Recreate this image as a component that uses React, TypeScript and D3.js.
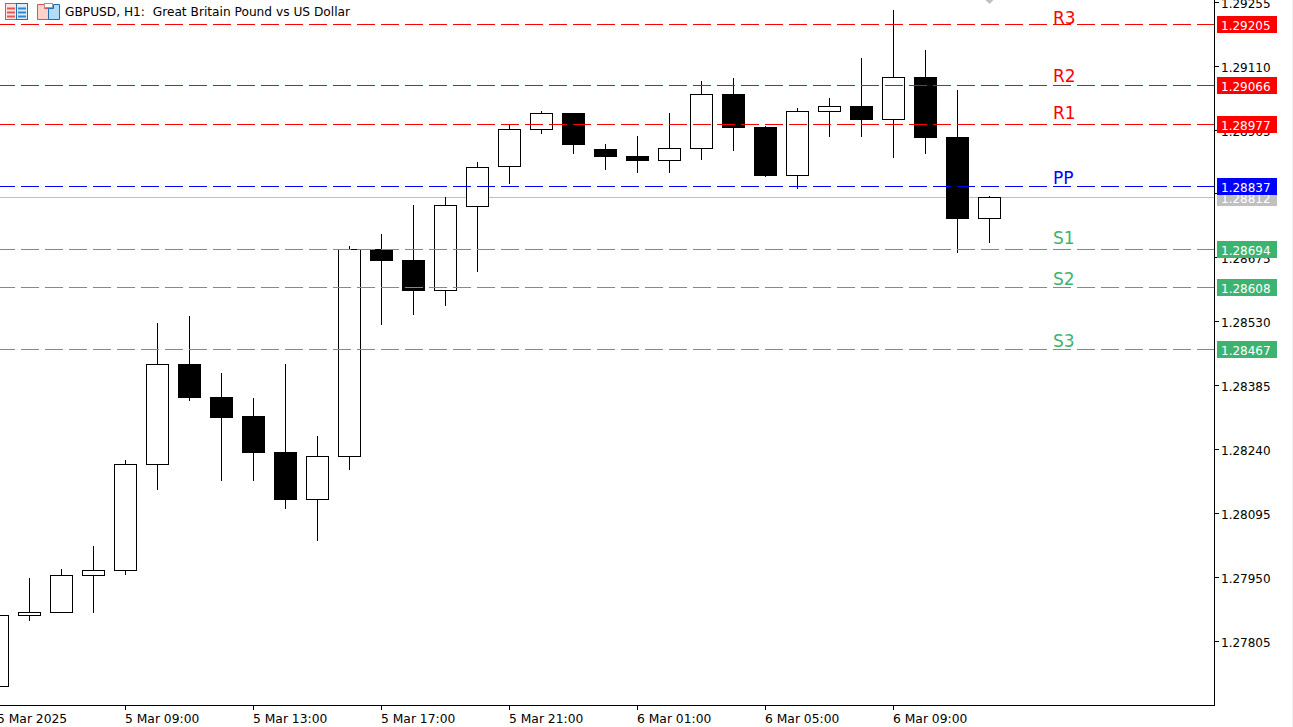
import React from "react";
import * as d3 from "d3";

const W = 1293;
const H = 727;

const title = "GBPUSD, H1:  Great Britain Pound vs US Dollar";

// Hourly candles, oldest first, in 1e-5 price units
const opens = [127702, 127864, 127871, 127954, 127965, 128206, 128433, 128358, 128315, 128233, 128126, 128224, 128694, 128669, 128600, 128791, 128882, 128966, 129003, 128921, 128905, 128896, 128923, 129046, 128971, 128862, 129007, 129019, 128989, 129085, 128948, 128764];
const highs = [127864, 127948, 127969, 128021, 128216, 128528, 128544, 128414, 128357, 128434, 128271, 128702, 128729, 128795, 128812, 128893, 128978, 129008, 129004, 128933, 128952, 129004, 129077, 129083, 128974, 129015, 129038, 129129, 129237, 129147, 129056, 128815];
const lows = [127702, 127850, 127871, 127870, 127955, 128148, 128349, 128169, 128169, 128105, 128033, 128194, 128523, 128546, 128565, 128643, 128843, 128957, 128911, 128875, 128868, 128868, 128898, 128918, 128858, 128830, 128948, 128948, 128902, 128911, 128686, 128709];
const closes = [127864, 127871, 127954, 127965, 128206, 128433, 128358, 128313, 128233, 128126, 128224, 128694, 128669, 128600, 128794, 128880, 128966, 129003, 128932, 128905, 128896, 128923, 129046, 128971, 128862, 129007, 129019, 128989, 129085, 128948, 128764, 128812];

const priceTicks = ["1.29255", "1.29110", "1.28965", "1.28820", "1.28675", "1.28530", "1.28385", "1.28240", "1.28095", "1.27950", "1.27805"];
const timeTickBars = [0, 4, 8, 12, 16, 20, 24, 28];
const timeTickLabels = ["5 Mar 2025", "5 Mar 09:00", "5 Mar 13:00", "5 Mar 17:00", "5 Mar 21:00", "6 Mar 01:00", "6 Mar 05:00", "6 Mar 09:00"];

const levelNames = ["R3", "R2", "R1", "PP", "S1", "S2", "S3"];
const levelPrices = ["1.29205", "1.29066", "1.28977", "1.28837", "1.28694", "1.28608", "1.28467"];
const levelColors = ["#ff0000", "#ff0000", "#ff0000", "#0000ff", "#3cb371", "#3cb371", "#3cb371"];
const levelNameLift = [0.5, 4, 5.5, 2.5, 5.5, 2.5, 2.5];
const lastPrice = "1.28812";

const FONT = "'DejaVu Sans', sans-serif";
const plotRight = 1214;
const plotBottom = 705;

const y = d3.scaleLinear().domain([1.27805, 1.29255]).range([641.2, 2.2]);
const x = d3.scaleLinear().domain([0, 1]).range([-2.5, 29.5]);
const px = (p: number) => Math.floor(y(p)) + 0.5;

export default function App() {
  return (
    <svg
      width={W}
      height={H}
      viewBox={`0 0 ${W} ${H}`}
      style={{ position: "fixed", left: 0, top: 0, background: "#fff" }}
      fontFamily={FONT}
    >
      <defs>
        <clipPath id="plot">
          <rect x={0} y={0} width={plotRight} height={plotBottom} />
        </clipPath>
      </defs>
      <rect x={W - 1} y={0} width={1} height={H} fill="#f0f0f0" />

      <g clipPath="url(#plot)">
        {/* last price line sits behind candles */}
        <line x1={0} x2={plotRight} y1={px(+lastPrice)} y2={px(+lastPrice)} stroke="#c0c0c0" />

        {opens.map((o, i) => {
          const c = closes[i];
          const up = c >= o;
          const cx = x(i);
          const top = px(Math.max(o, c) / 1e5);
          const bottom = px(Math.min(o, c) / 1e5);
          return (
            <g key={i}>
              <line
                x1={cx}
                x2={cx}
                y1={Math.round(y(highs[i] / 1e5))}
                y2={Math.round(y(lows[i] / 1e5))}
                stroke="#000"
              />
              <rect
                x={cx - 11}
                y={top}
                width={22}
                height={bottom - top}
                fill={up ? "#fff" : "#000"}
                stroke="#000"
              />
            </g>
          );
        })}

        {levelPrices.map((p, i) => (
          <line
            key={p}
            x1={-3}
            x2={plotRight}
            y1={px(+p)}
            y2={px(+p)}
            stroke={levelColors[i]}
            strokeDasharray="18 6"
          />
        ))}

        {levelNames.map((n, i) => (
          <text
            key={n}
            x={1053}
            y={px(+levelPrices[i]) - levelNameLift[i]}
            fontSize={17}
            fill={levelColors[i]}
          >
            {n}
          </text>
        ))}

        {/* small grey marker at the top edge */}
        <path d={`M${x(31) - 4} 0 L${x(31) + 4} 0 L${x(31)} 4 Z`} fill="#c0c0c0" />
      </g>

      {/* axes */}
      <line x1={plotRight + 0.5} x2={plotRight + 0.5} y1={0} y2={plotBottom + 1} stroke="#000" />
      <line x1={0} x2={plotRight + 1} y1={plotBottom + 0.5} y2={plotBottom + 0.5} stroke="#000" />

      {priceTicks.map((t) => (
        <g key={t}>
          <line x1={plotRight + 1} x2={plotRight + 5} y1={px(+t)} y2={px(+t)} stroke="#000" />
          <text x={1221} y={px(+t) + 5} fontSize={12} fill="#000">
            {t}
          </text>
        </g>
      ))}

      {timeTickBars.map((b, i) => (
        <g key={b}>
          <line x1={x(b)} x2={x(b)} y1={plotBottom + 1} y2={plotBottom + 5} stroke="#000" />
          <text x={x(b) - 0.5} y={723} fontSize={12.3} fill="#000">
            {timeTickLabels[i]}
          </text>
        </g>
      ))}

      {/* price tags */}
      {[lastPrice, ...levelPrices.slice().reverse()].map((p) => {
        const idx = levelPrices.indexOf(p);
        const col = idx < 0 ? "#c0c0c0" : levelColors[idx];
        const yp = px(+p);
        return (
          <g key={p}>
            <rect x={1217} y={yp - 8.5} width={60} height={17} fill={col} />
            <text x={1221} y={yp + 5} fontSize={12} fill="#fff">
              {p}
            </text>
          </g>
        );
      })}

      {/* header icons */}
      <g>
        <rect x={5.5} y={3.5} width={11} height={16} fill="#fde3e0" stroke="#e0524a" />
        <rect x={16.5} y={3.5} width={11} height={16} fill="#dcecfa" stroke="#1f6fb4" />
        {[7.5, 11.5, 15.5].map((v) => (
          <g key={v}>
            <rect x={7} y={v} width={8} height={2} fill="#e8574e" />
            <rect x={18} y={v} width={8} height={2} fill="#2f86cf" />
          </g>
        ))}
        <path d="M37.5 4.5 H44.5 V8.5 H48.5 V19.5 H37.5 Z" fill="#ffd3cc" stroke="#e0524a" />
        <path d="M48.5 8.5 H53.5 V4.5 H59.5 V19.5 H48.5 Z" fill="#b3dcfa" stroke="#1f6fb4" />
        <rect x={44.5} y={3.5} width={8} height={4} fill="#fff" stroke="#9a9a9a" />
      </g>
      <text x={65} y={16} fontSize={12.2} fill="#000" xmlSpace="preserve" style={{ whiteSpace: "pre" }}>
        {title}
      </text>
    </svg>
  );
}
